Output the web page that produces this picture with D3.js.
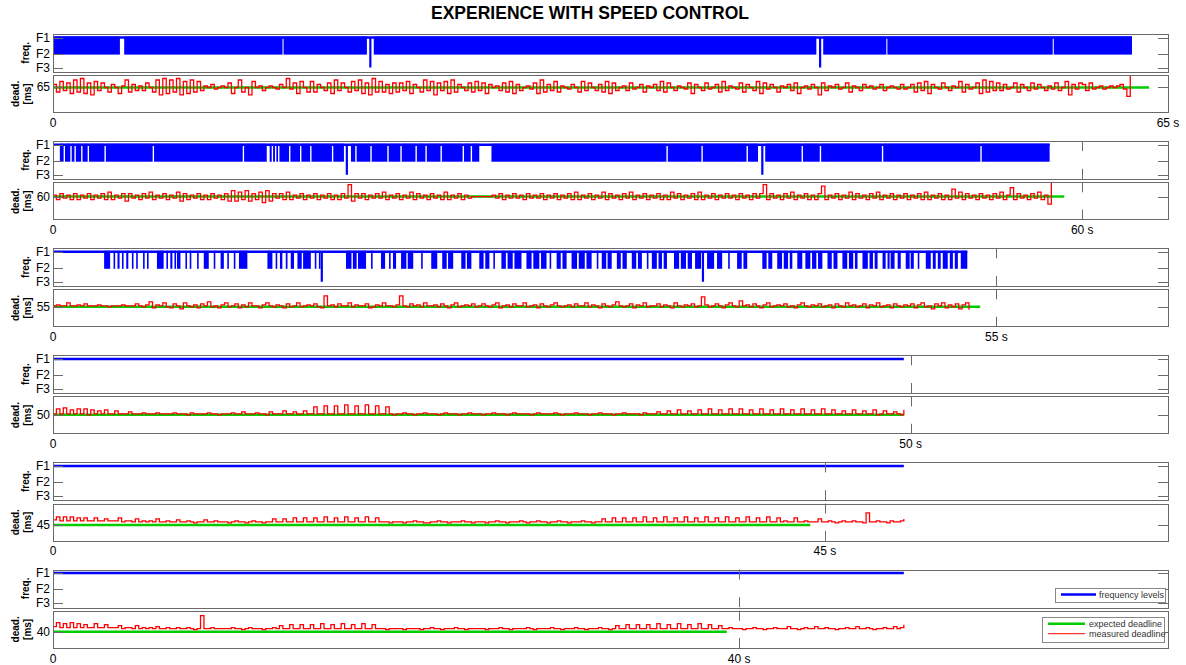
<!DOCTYPE html>
<html>
<head>
<meta charset="utf-8">
<title>Experience with speed control</title>
<script src="https://cdnjs.cloudflare.com/ajax/libs/d3/7.8.5/d3.min.js"></script>
<style>
body { margin: 0; background: #fff; }
text { font-family: "Liberation Sans", Arial, sans-serif; }
</style>
</head>
<body>
<svg id="chart" width="1186" height="665"></svg>
<script>
// runs, top to bottom: expected deadline (ms), also used as the x tick (s)
var runDeadlines = [65, 60, 55, 50, 45, 40];
var freqNames = ["F1", "F2", "F3"];
var freqLevels = [1.0, 0.8, 0.626];
var freqLimits = [0.574, 1.045];
var deadLimits = [[48.3, 73.2], [44.7, 69.5], [35.1, 72.4], [31, 68.3], [29, 66.3], [23.7, 61]];
var sampleStep = 0.2;   // s between measured samples
var expectedEnd = [63.9, 58.95, 54.05, 49.6, 44.14, 39.28];
var freqEnd = [62.9, 58.1, 53.3, 49.6, 49.6, 49.6];

// intervals (s) where the clock keeps switching between F1 and F2
var toggle65 = [[0.0,3.9],[4.15,13.38],[13.44,18.3],[18.7,44.5],[44.9,48.58],[48.64,58.28],[58.34,62.9]];
var toggle60 = [[0.4,0.62],[0.7,1.01],[1.09,1.25],[1.33,1.64],[1.72,2.02],[2.1,3.0],[3.08,5.81],[5.89,11.06],
  [11.14,12.46],[12.63,12.75],[12.83,12.94],[13.02,13.12],[13.2,13.76],[13.84,14.4],[14.48,14.99],[15.07,16.26],
  [16.34,16.96],[17.37,17.62],[17.7,18.5],[18.58,19.49],[19.57,20.25],[20.33,21.13],[21.21,21.71],[21.79,22.59],
  [22.67,23.88],[23.96,24.35],[24.43,24.85],[25.56,35.76],[35.84,37.8],[37.88,40.43],[40.51,41.1],[41.52,43.64],
  [43.72,44.7],[44.78,48.32],[48.4,54.06],[54.14,58.1]];
var toggle55 = [[2.98,3.33],[3.53,3.59],[3.76,3.88],[4.02,4.08],[4.27,4.39],[4.6,4.66],[4.85,4.93],[5.25,5.32],
  [5.48,5.54],[6.06,6.45],[6.61,6.67],[6.84,6.96],[7.08,7.14],[7.23,7.43],[7.72,7.78],[7.97,8.05],[8.4,8.46],
  [8.79,9.08],[9.37,9.43],[9.77,9.96],[10.16,10.22],[10.54,10.6],[10.84,11.33],[12.5,12.79],[12.98,13.04],
  [13.23,13.37],[13.57,13.67],[13.86,14.05],[14.25,14.5],[14.58,15.03],[15.26,15.32],[15.5,15.56],
  [17.08,17.4],[17.48,17.7],[17.78,18.25],[18.54,18.6],[19.12,19.36],[19.59,19.65],[19.82,20.0],
  [20.29,20.6],[20.68,21.0],[21.46,21.52],[22.05,22.4],[22.69,22.95],[23.03,23.33],[23.8,24.05],[24.13,24.39],
  [24.85,25.1],[25.2,25.44],[25.67,25.73],[26.14,26.4],[26.5,26.8],[26.9,27.31],[27.6,27.9],[28.0,28.35],
  [28.45,28.77],[28.95,29.01],[29.36,29.6],[29.7,29.94],[30.23,30.55],[30.65,31.0],[31.1,31.4],[31.7,31.76],
  [31.99,32.25],[32.33,32.57],[32.87,33.1],[33.2,33.45],[33.74,34.0],[34.1,34.33],[34.62,34.68],
  [34.91,35.2],[35.3,35.5],[35.6,35.79],[36.2,36.5],[36.6,36.9],[37.0,37.25],[37.43,37.78],[38.13,38.54],
  [38.71,39.01],[39.36,39.42],[39.88,40.15],[40.25,40.47],[41.35,41.6],[41.7,41.93],[42.22,42.5],[42.6,42.85],
  [42.95,43.1],[43.39,43.68],[43.86,44.15],[44.25,44.5],[44.6,44.85],[45.15,45.4],[45.5,45.73],
  [46.02,46.3],[46.4,46.65],[46.75,46.9],[47.19,47.5],[47.6,47.8],[47.9,48.07],[48.36,48.54],[48.65,48.77],
  [48.83,49.06],[49.24,49.42],[49.71,49.94],[50.0,50.18],[50.41,50.47],[50.88,51.17],[51.29,51.46],
  [51.58,51.75],[51.87,52.16],[52.28,52.46],[52.57,52.75],[52.92,53.3]];
var toggle50 = [];
var toggle45 = [];
var toggle40 = [];

// single drops down to F3 (s)
var drop65 = [18.5, 44.72];
var drop60 = [17.13, 41.35];
var drop55 = [15.67, 37.89];
var drop50 = [];
var drop45 = [];
var drop40 = [];

// measured minus expected deadline (ms), one sample every 0.2 s
var dev65 = [
  2,-3,4,-2,3,-4,5,-3,6,-4,3,-5,4,-2,3,0,-3,2,0,-4,1,5,-3,2,-2,
  1,-2,3,0,-3,5,-5,6,-4,5,-3,6,-5,4,-4,5,-3,4,-2,1,0,2,-1,0,1,
  0,3,-4,0,5,-3,0,-5,4,0,1,-2,0,1,0,-1,2,0,6,-1,3,-4,4,0,-3,
  4,-3,2,0,-2,3,-4,5,-2,3,0,-3,4,-2,5,-4,3,-5,6,-3,4,-3,2,-4,3,
  -3,3,-2,4,-4,2,0,-3,5,-2,4,-5,3,-2,4,-4,5,-3,2,0,-2,3,-3,4,-2,
  3,-4,2,0,1,-2,3,-3,4,-4,2,-2,0,1,-1,3,-4,5,-3,2,-2,4,-3,1,0,
  -1,2,0,-3,4,-2,3,0,-2,2,-3,4,-4,3,-2,0,1,-2,3,-1,0,2,-3,1,0,
  2,-2,4,-3,3,0,-2,1,0,-1,3,-4,2,0,-2,3,-1,0,2,-3,4,-2,1,0,-1,
  3,-3,2,0,-2,4,-4,3,-1,2,0,-3,1,0,2,-2,3,-4,0,1,-1,2,0,-5,3,
  -2,1,0,2,-1,0,3,-3,1,0,-2,2,0,1,-1,0,2,-2,0,1,0,-1,2,-1,0,
  2,-3,3,-2,4,-4,2,0,-1,3,0,-2,1,0,4,-3,2,-1,0,3,-4,5,-3,4,-2,
  3,-2,2,-1,0,3,-3,2,0,-2,3,-1,2,0,-2,1,-1,3,-2,0,4,-5,2,-1,3,
  2,-2,3,-1,0,1,-1,0,1,0,1,2,-1,-6,8];
var dev60 = [
  1,-2,2,-1,1,-2,2,-2,1,-1,2,-2,1,-1,2,-2,3,-2,1,-1,2,-3,2,-1,1,
  -2,2,-1,3,-2,1,-1,2,-2,1,-1,3,-3,2,-2,1,-1,2,-2,1,-2,2,-1,1,-2,
  2,-3,4,-3,3,-2,4,-3,2,-2,3,-4,4,-3,2,-1,2,-2,3,-2,1,-1,2,-2,1,
  -1,2,-2,1,-1,2,-2,1,-2,2,-1,8,-3,2,-1,2,-2,1,-1,2,-1,3,-2,1,-1,
  2,-2,1,-1,3,-2,2,-1,1,-2,2,-1,1,-2,3,-2,1,-1,2,-2,1,-1,0,0,0,
  0,0,0,1,-1,2,-2,1,-1,2,-1,1,-2,2,-1,1,-1,2,-2,1,-1,2,-2,1,-1,
  2,-2,3,-2,1,-1,2,-2,1,-1,3,-2,2,-1,1,-2,2,-1,3,-2,1,-1,2,-2,1,
  -1,2,-2,1,-2,3,-1,2,-2,1,-1,2,-2,3,-2,1,-1,2,-2,1,-1,2,-1,1,-2,
  2,-1,1,-2,2,-1,2,8,-2,2,-1,1,-2,2,-1,3,-2,1,-1,2,-2,1,-2,2,7,
  -2,1,-1,2,-2,1,-1,3,-2,2,-1,1,-2,2,-1,3,-2,1,-1,2,-2,1,-1,2,-2,
  1,-1,2,-2,3,-2,1,-1,2,-2,1,-2,5,-1,3,-2,2,-1,1,-2,2,-1,1,-2,2,
  -1,3,-2,1,6,-2,2,-1,1,-2,2,-1,3,-2,1,-5,9];
var dev55 = [
  1,2,1,1,4,1,1,2,1,3,1,1,1,2,1,1,0,1,1,1,2,1,1,1,3,
  1,0,2,5,-1,2,1,4,0,-1,3,1,-2,4,1,0,2,-1,3,1,5,0,1,-1,2,
  4,0,1,3,-1,2,0,4,1,1,-1,2,4,1,0,2,1,-1,3,0,1,4,0,1,2,
  1,3,0,-1,11,1,2,0,3,1,1,4,0,2,1,1,3,-1,0,2,1,4,1,1,0,
  2,11,1,0,3,1,2,0,4,1,1,2,0,3,1,-1,2,4,0,1,2,1,3,0,1,
  3,1,0,2,4,-1,1,2,0,3,1,1,4,0,1,2,-1,3,1,0,2,4,1,0,1,
  2,0,3,1,1,4,0,2,1,-1,3,1,0,2,5,1,0,1,3,-1,2,1,4,0,1,
  1,3,0,2,1,-1,4,1,0,2,1,3,0,1,10,2,0,1,3,1,-1,2,4,1,0,
  6,1,2,0,3,1,-1,2,4,0,1,2,1,3,0,1,-1,2,4,1,0,2,1,3,0,
  1,2,-1,3,1,0,4,1,2,0,1,3,-1,2,1,4,0,1,2,-1,3,1,0,2,1,
  3,-1,2,4,0,1,-2,3,1,4,-1,2,0,3,-2,2,4,-3];
var dev50 = [
  1,6,1,7,1,5,1,6,1,6,0,5,1,4,1,5,1,1,4,1,1,1,3,1,1,
  1,2,1,1,1,2,1,1,1,1,2,1,1,1,0,2,1,1,1,1,2,1,1,0,1,
  1,1,2,1,1,3,1,1,1,2,1,1,0,3,1,1,1,4,1,1,3,1,1,4,1,
  1,8,1,1,9,1,1,9,1,1,10,1,1,9,1,1,10,1,1,9,1,1,8,1,0,
  1,1,2,1,1,0,1,1,2,1,1,1,0,1,2,1,1,1,0,1,1,2,1,1,1,
  0,1,1,2,1,1,1,0,1,2,1,1,1,1,0,1,2,1,1,1,1,2,1,0,1,
  1,1,2,1,1,1,0,1,1,2,1,1,1,0,1,1,2,1,1,1,1,0,2,1,1,
  1,3,1,1,4,1,1,5,1,1,4,1,1,5,1,1,6,1,1,5,1,1,6,1,1,
  6,1,1,5,1,1,6,1,1,5,1,1,6,1,1,5,1,1,6,1,1,5,1,1,6,
  1,1,5,1,1,4,1,1,5,1,1,4,1,1,5,0,1,4,1,1,3,1,0,5];
var dev45 = [
  5,8,4,8,4,8,4,7,4,7,4,4,7,4,4,6,4,4,4,7,3,4,4,3,6,
  3,4,3,4,3,6,3,3,4,3,3,5,3,3,4,3,2,3,3,5,3,3,4,3,3,
  3,2,3,4,3,3,2,3,4,3,3,2,3,3,6,3,3,6,3,3,7,3,3,7,3,
  3,7,3,3,8,3,3,7,3,3,8,3,3,7,3,3,8,3,3,7,3,3,3,2,3,
  3,3,2,3,3,4,3,3,2,2,3,3,4,3,3,2,3,3,3,4,3,3,2,3,3,
  3,2,3,3,4,3,3,2,3,3,3,4,3,2,3,3,4,3,3,2,3,3,4,3,3,
  2,3,3,3,4,3,3,2,3,3,6,3,3,7,3,3,7,3,3,7,3,3,8,3,3,
  7,3,3,8,3,3,7,3,3,8,3,3,7,3,3,8,3,3,7,3,3,8,3,3,7,
  3,3,8,3,3,7,3,3,8,3,3,7,3,4,3,3,7,3,3,4,3,3,3,6,3,
  3,4,3,2,3,4,3,3,4,3,3,2,12,3,3,4,3,3,2,4,3,3,4,6];
var dev40 = [
  5,9,4,8,4,9,4,8,4,7,4,4,8,4,4,7,4,4,4,6,3,4,4,3,6,
  3,4,3,4,3,5,3,3,4,3,3,4,3,3,4,3,2,3,16,3,3,4,3,3,3,
  3,3,4,3,3,2,3,4,3,3,3,2,3,3,4,3,6,3,3,7,3,3,7,3,3,
  7,3,3,8,3,3,7,3,3,8,3,3,7,3,3,8,3,3,7,3,3,3,2,3,3,
  3,3,2,3,3,3,3,2,3,3,4,3,3,2,3,3,3,4,3,3,2,3,3,3,3,
  3,2,3,3,3,4,3,3,2,3,3,3,3,4,3,2,3,3,3,3,4,3,3,2,3,
  3,3,4,3,3,2,3,3,3,4,3,3,2,3,6,3,3,7,3,3,7,3,3,7,3,
  3,8,3,3,7,3,3,8,3,3,7,3,3,8,3,3,7,3,3,6,3,3,4,3,3,
  3,2,3,3,4,3,3,2,3,3,4,3,3,3,5,3,3,2,3,4,3,3,5,3,3,
  4,3,3,2,3,3,4,3,3,5,3,3,4,3,2,3,3,4,3,3,5,3,4,7];

var togglesAll = [toggle65, toggle60, toggle55, toggle50, toggle45, toggle40];
var dropsAll = [drop65, drop60, drop55, drop50, drop45, drop40];
var devAll = [dev65, dev60, dev55, dev50, dev45, dev40];

var svg = d3.select("#chart");
var axisColor = "#6a6a6a";
var blue = "#0000ff", red = "#ff0000", green = "#00cc00";

// layout
var left = 53, right = 1168;
var rowTop0 = 34, rowStep = 107.1;
var freqH = 37.7, deadOff = 41.2, deadH = 37.3, labelOff = 89;

function cr(v) { return Math.round(v) + 0.5; }

var x = d3.scaleLinear().domain([0, 65]).range([left, right]);

svg.append("text")
    .attr("x", 590)
    .attr("y", 19)
    .attr("text-anchor", "middle")
    .style("font-weight", "bold")
    .style("font-size", "17.5px")
    .text("EXPERIENCE WITH SPEED CONTROL");

runDeadlines.forEach(function(deadline, i) {
    var top = rowTop0 + i * rowStep;
    var fTop = top, fBot = top + freqH;
    var dTop = top + deadOff, dBot = dTop + deadH;

    var yF = d3.scaleLinear().domain(freqLimits).range([fBot, fTop]);
    var yD = d3.scaleLinear().domain(deadLimits[i]).range([dBot, dTop]);

    var g = svg.append("g").attr("class", "run run-" + deadline);

    // clip areas
    var defs = g.append("defs");
    defs.append("clipPath").attr("id", "cf" + i).append("rect")
        .attr("x", left).attr("y", fTop).attr("width", right - left).attr("height", freqH);
    defs.append("clipPath").attr("id", "cd" + i).append("rect")
        .attr("x", left).attr("y", dTop).attr("width", right - left).attr("height", deadH);

    // ---- frequency panel ----
    var fg = g.append("g").attr("clip-path", "url(#cf" + i + ")");
    var yF1 = yF(freqLevels[0]), yF2 = yF(freqLevels[1]), yF3 = yF(freqLevels[2]);

    fg.append("line")
        .attr("x1", x(0)).attr("x2", x(freqEnd[i]))
        .attr("y1", yF1).attr("y2", yF1)
        .attr("stroke", blue).attr("stroke-width", 2.5);

    fg.selectAll("rect.toggle")
        .data(togglesAll[i])
        .enter().append("rect")
        .attr("class", "toggle")
        .attr("x", function(d) { return x(d[0]); })
        .attr("width", function(d) { return Math.max(1.6, x(d[1]) - x(d[0])); })
        .attr("y", yF1 - 1)
        .attr("height", yF2 - yF1 + 2)
        .attr("fill", blue);

    fg.selectAll("line.drop")
        .data(dropsAll[i])
        .enter().append("line")
        .attr("class", "drop")
        .attr("x1", function(d) { return x(d); })
        .attr("x2", function(d) { return x(d); })
        .attr("y1", yF1)
        .attr("y2", yF3)
        .attr("stroke", blue)
        .attr("stroke-width", 2.2);

    // ---- deadline panel ----
    var dg = g.append("g").attr("clip-path", "url(#cd" + i + ")");
    dg.append("line")
        .attr("x1", x(0)).attr("x2", x(expectedEnd[i]))
        .attr("y1", yD(deadline)).attr("y2", yD(deadline))
        .attr("stroke", green).attr("stroke-width", 2.5);

    var measured = d3.line()
        .x(function(d, k) { return x(k * sampleStep); })
        .y(function(d) { return yD(deadline + d); })
        .curve(d3.curveStepAfter);

    dg.append("path")
        .attr("d", measured(devAll[i]))
        .attr("fill", "none")
        .attr("stroke", red)
        .attr("stroke-width", 1.3);

    // ---- boxes and ticks ----
    [[fTop, fBot], [dTop, dBot]].forEach(function(p) {
        g.append("rect")
            .attr("x", cr(left)).attr("y", cr(p[0]))
            .attr("width", Math.round(right - left)).attr("height", Math.round(p[1] - p[0]))
            .attr("fill", "none").attr("stroke", axisColor);
        // x tick at the run length, top and bottom
        var xt = cr(x(deadline));
        if (x(deadline) < right - 2) {
            g.append("line").attr("x1", xt).attr("x2", xt)
                .attr("y1", p[0]).attr("y2", p[0] + 10).attr("stroke", axisColor);
            g.append("line").attr("x1", xt).attr("x2", xt)
                .attr("y1", p[1] - 10).attr("y2", p[1]).attr("stroke", axisColor);
        }
    });

    freqLevels.forEach(function(v, k) {
        var yy = cr(yF(v));
        g.append("line").attr("x1", left).attr("x2", left + 10)
            .attr("y1", yy).attr("y2", yy).attr("stroke", axisColor);
        g.append("line").attr("x1", right - 10).attr("x2", right)
            .attr("y1", yy).attr("y2", yy).attr("stroke", axisColor);
        g.append("text")
            .attr("x", 50).attr("y", yF(v))
            .attr("text-anchor", "end")
            .attr("dominant-baseline", "central")
            .style("font-size", "12px")
            .text(freqNames[k]);
    });

    var yd = cr(yD(deadline));
    g.append("line").attr("x1", left).attr("x2", left + 10)
        .attr("y1", yd).attr("y2", yd).attr("stroke", axisColor);
    g.append("line").attr("x1", right - 10).attr("x2", right)
        .attr("y1", yd).attr("y2", yd).attr("stroke", axisColor);
    g.append("text")
        .attr("x", 50).attr("y", yD(deadline))
        .attr("text-anchor", "end")
        .attr("dominant-baseline", "central")
        .style("font-size", "12px")
        .text(deadline);

    // x labels
    g.append("text")
        .attr("x", x(0)).attr("y", top + labelOff)
        .attr("text-anchor", "middle")
        .attr("dominant-baseline", "central")
        .style("font-size", "12px")
        .text("0");
    g.append("text")
        .attr("x", x(deadline)).attr("y", top + labelOff)
        .attr("text-anchor", "middle")
        .attr("dominant-baseline", "central")
        .style("font-size", "12px")
        .text(deadline + " s");

    // y labels
    g.append("text")
        .attr("transform", "translate(25," + (fTop + freqH / 2) + ") rotate(-90)")
        .attr("text-anchor", "middle")
        .attr("dominant-baseline", "central")
        .style("font-weight", "bold")
        .style("font-size", "10px")
        .text("freq.");
    g.append("text")
        .attr("transform", "translate(15," + (dTop + deadH / 2) + ") rotate(-90)")
        .attr("text-anchor", "middle")
        .attr("dominant-baseline", "central")
        .style("font-weight", "bold")
        .style("font-size", "10px")
        .text("dead.");
    g.append("text")
        .attr("transform", "translate(27," + (dTop + deadH / 2) + ") rotate(-90)")
        .attr("text-anchor", "middle")
        .attr("dominant-baseline", "central")
        .style("font-weight", "bold")
        .style("font-size", "10px")
        .text("[ms]");

    // legends on the last run
    if (i === runDeadlines.length - 1) {
        var lf = g.append("g");
        lf.append("rect")
            .attr("x", 1055.5).attr("y", cr(fTop + 18)).attr("width", 110).attr("height", 14)
            .attr("fill", "#fff").attr("stroke", "#888");
        lf.append("line")
            .attr("x1", 1061).attr("x2", 1096).attr("y1", fTop + 25).attr("y2", fTop + 25)
            .attr("stroke", blue).attr("stroke-width", 2.5);
        lf.append("text")
            .attr("x", 1099).attr("y", fTop + 25)
            .attr("dominant-baseline", "central")
            .style("font-size", "9px").style("fill", "#333")
            .text("frequency levels");

        var ld = g.append("g");
        ld.append("rect")
            .attr("x", 1042.5).attr("y", cr(dTop + 6)).attr("width", 122).attr("height", 25)
            .attr("fill", "#fff").attr("stroke", "#888");
        ld.append("line")
            .attr("x1", 1048).attr("x2", 1085).attr("y1", dTop + 13).attr("y2", dTop + 13)
            .attr("stroke", green).attr("stroke-width", 2.5);
        ld.append("line")
            .attr("x1", 1048).attr("x2", 1085).attr("y1", dTop + 23).attr("y2", dTop + 23)
            .attr("stroke", red).attr("stroke-width", 1);
        ld.append("text")
            .attr("x", 1089).attr("y", dTop + 13)
            .attr("dominant-baseline", "central")
            .style("font-size", "9px").style("fill", "#333")
            .text("expected deadline");
        ld.append("text")
            .attr("x", 1089).attr("y", dTop + 23)
            .attr("dominant-baseline", "central")
            .style("font-size", "9px").style("fill", "#333")
            .text("measured deadline");
    }
});
</script>
</body>
</html>
